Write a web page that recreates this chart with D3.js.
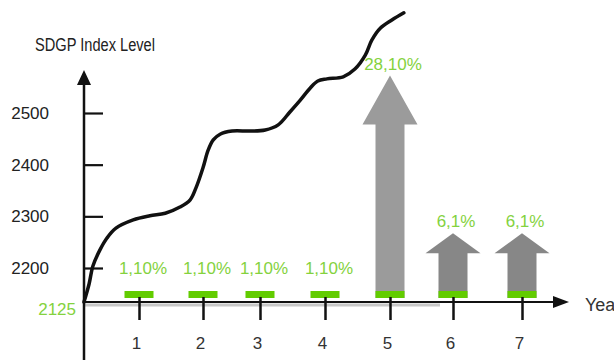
<!DOCTYPE html>
<html>
<head>
<meta charset="utf-8">
<script src="https://cdn.jsdelivr.net/npm/d3@7"></script>
<style>
  html, body { margin: 0; padding: 0; background: #fff; }
  svg { display: block; font-family: "Liberation Sans", Arial, sans-serif; }
</style>
</head>
<body>
<svg id="chart" width="614" height="360"></svg>
<script>
// Years on the horizontal axis
const years = [1, 2, 3, 4, 5, 6, 7];
// Annual growth labels per year (percent)
const growth = [1.1, 1.1, 1.1, 1.1, 28.1, 6.1, 6.1];
const growthLabels = ["1,10%", "1,10%", "1,10%", "1,10%", "28,10%", "6,1%", "6,1%"];
// Years drawn with an upward growth arrow
const arrowYears = [5, 6, 7];
// Index level axis ticks
const levelTicks = [2200, 2300, 2400, 2500];
const baseLevel = 2125;
// Index level path: fractional year and level
const pathYears = [0.14, 0.22, 0.28, 0.39, 0.50, 0.64, 0.91, 1.17, 1.41, 1.64, 1.80, 1.89, 2.00, 2.09, 2.18, 2.30, 2.51, 2.82, 3.08, 3.28, 3.46, 3.62, 3.77, 3.89, 4.03, 4.28, 4.46, 4.62, 4.72, 4.85, 5.03, 5.22];
const pathLevels = [2134, 2169, 2204, 2235, 2258, 2277, 2293, 2301, 2306, 2318, 2332, 2355, 2394, 2428, 2448, 2459, 2465, 2465, 2467, 2477, 2502, 2525, 2548, 2562, 2566, 2570, 2585, 2612, 2641, 2664, 2680, 2694];

const svg = d3.select("#chart");
const GREEN_TEXT = "#84d23e";
const GREEN_BAR = "#62cc00";

// Scales
const x = d3.scaleLinear().domain(years).range([139, 203, 260, 325, 390, 453, 522]);
const y = d3.scaleLinear().domain([2200, 2500]).range([268, 113]);
const yPct = d3.scaleLinear().domain([0, 30]).range([277, 62]);

const axisX = 84;      // position of the level axis
const axisY = 302;     // position of the year axis
const barBottom = 298;
const barW = 29;

// Soft shadow under the year axis
svg.append("line")
  .attr("x1", axisX).attr("x2", 440)
  .attr("y1", axisY + 3).attr("y2", axisY + 3)
  .attr("stroke", "#c8c8c8").attr("stroke-width", 3);

// Growth arrows
const arrowData = years.map((yr, i) => ({ yr, v: growth[i], label: growthLabels[i], arrow: arrowYears.includes(yr) }));
arrowData.filter(d => d.arrow).forEach(d => {
  const cx = x(d.yr);
  const top = yPct(d.v);
  const total = barBottom - top;
  const headH = Math.min(49, total * 0.31);
  const headW = 55;
  const p = d3.path();
  p.moveTo(cx - barW / 2, barBottom);
  p.lineTo(cx - barW / 2, top + headH);
  p.lineTo(cx - headW / 2, top + headH);
  p.lineTo(cx, top);
  p.lineTo(cx + headW / 2, top + headH);
  p.lineTo(cx + barW / 2, top + headH);
  p.lineTo(cx + barW / 2, barBottom);
  p.closePath();
  svg.append("path").attr("d", p.toString())
    .attr("fill", d.v > 20 ? "#9b9b9b" : "#878787");
});

// Green base strips
svg.selectAll("rect.strip").data(arrowData).enter().append("rect")
  .attr("class", "strip")
  .attr("x", d => x(d.yr) - barW / 2)
  .attr("y", barBottom - 7)
  .attr("width", barW).attr("height", 7)
  .attr("fill", GREEN_BAR);

// Growth labels
svg.selectAll("text.pct").data(arrowData).enter().append("text")
  .attr("class", "pct")
  .attr("x", d => x(d.yr) + (d.arrow ? 3 : 4))
  .attr("y", d => (d.arrow ? yPct(d.v) - 12 : yPct(d.v) - 1))
  .attr("dy", "0.35em")
  .attr("text-anchor", "middle")
  .attr("font-size", 17)
  .attr("fill", GREEN_TEXT)
  .text(d => d.label);

// Year axis
const gx = svg.append("g").attr("transform", `translate(0,${axisY})`)
  .call(d3.axisBottom(x).tickValues(years).tickFormat(d3.format("d")).tickSize(18).tickPadding(17));
gx.select(".domain").remove();
gx.selectAll(".tick line").attr("y1", -5).attr("stroke", "#111").attr("stroke-width", 2.5);
gx.selectAll(".tick text").attr("font-size", 17).attr("fill", "#333")
  .attr("font-family", "Liberation Sans, Arial, sans-serif").attr("dx", -3);
svg.append("line").attr("x1", axisX).attr("x2", 556).attr("y1", axisY).attr("y2", axisY)
  .attr("stroke", "#111").attr("stroke-width", 2.2);
svg.append("path").attr("d", `M553,${axisY - 6}L569,${axisY}L553,${axisY + 6}Z`).attr("fill", "#111");
svg.append("text").attr("x", 585).attr("y", axisY + 3).attr("dy", "0.35em")
  .attr("font-size", 18).attr("fill", "#333").text("Year");

// Level axis
svg.append("line").attr("x1", axisX).attr("x2", axisX).attr("y1", 80).attr("y2", 360)
  .attr("stroke", "#111").attr("stroke-width", 2.5);
svg.append("path").attr("d", `M${axisX - 7},85L${axisX},70L${axisX + 7},85Z`).attr("fill", "#111");
const gy = svg.append("g").attr("transform", `translate(${axisX},0)`)
  .call(d3.axisLeft(y).tickValues(levelTicks).tickFormat(d3.format("d")).tickSize(18).tickPadding(17));
gy.select(".domain").remove();
gy.selectAll(".tick line").attr("x2", 19).attr("stroke", "#111").attr("stroke-width", 2.2);
gy.selectAll(".tick text").attr("font-size", 17).attr("fill", "#222")
  .attr("font-family", "Liberation Sans, Arial, sans-serif");
svg.append("text").attr("x", 76).attr("y", y(baseLevel) + 2).attr("dy", "0.35em")
  .attr("text-anchor", "end").attr("font-size", 17).attr("fill", GREEN_TEXT).text(String(baseLevel));

svg.append("text").attr("x", 35).attr("y", 51)
  .attr("font-size", 18).attr("fill", "#222")
  .attr("textLength", 120).attr("lengthAdjust", "spacingAndGlyphs")
  .text("SDGP Index Level");

// Index level path
const line = d3.line().x(d => x(d[0])).y(d => y(d[1])).curve(d3.curveCatmullRom.alpha(0.5));
svg.append("path")
  .datum(pathYears.map((yr, i) => [yr, pathLevels[i]]))
  .attr("d", line)
  .attr("fill", "none").attr("stroke", "#111").attr("stroke-width", 3.5)
  .attr("stroke-linecap", "round");
</script>
</body>
</html>
